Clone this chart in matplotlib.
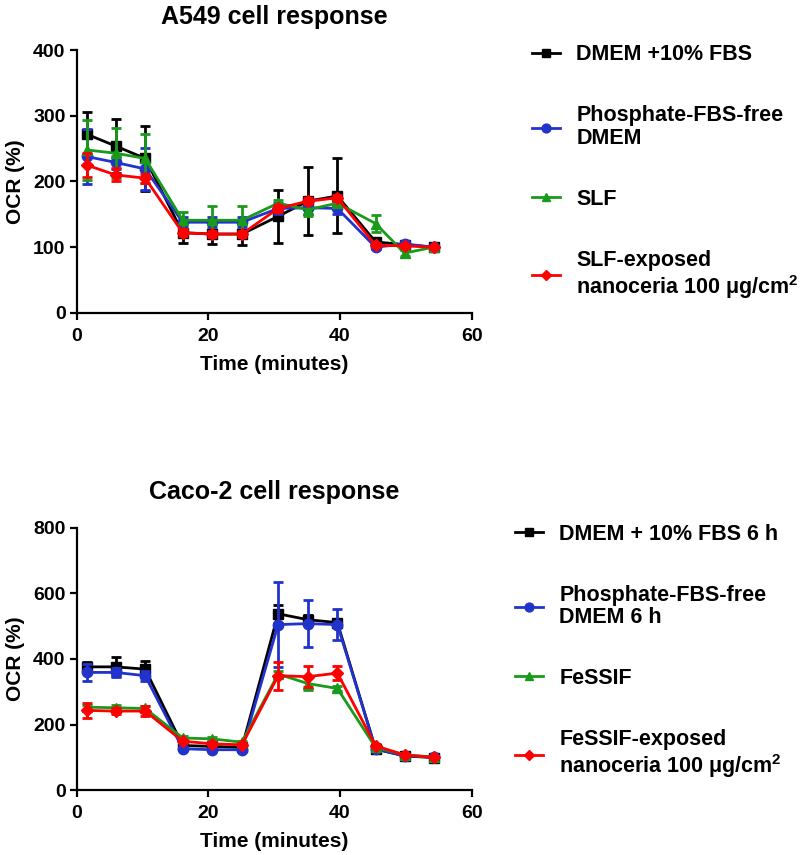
import matplotlib
matplotlib.use("Agg")
import matplotlib.pyplot as plt
from matplotlib.lines import Line2D

plt.rcParams['font.family'] = ['Liberation Sans', 'DejaVu Sans']
plt.rcParams['font.weight'] = 'bold'
plt.rcParams['mathtext.fontset'] = 'custom'
plt.rcParams['mathtext.bf'] = 'Liberation Sans:bold'
plt.rcParams['mathtext.rm'] = 'Liberation Sans:bold'
plt.rcParams['mathtext.default'] = 'bf'

# ---------------- data ----------------
time = [1.5, 5.9, 10.4, 16.1, 20.6, 25.1, 30.6, 35.1, 39.6, 45.4, 49.8, 54.2]

# A549
a_dmem = [272, 254, 235, 122, 120, 120, 147, 170, 178, 108, 104, 100]
a_dmem_err = [33, 41, 49, 15, 15, 17, 40, 52, 57, 5, 3, 2]
a_pfree = [238, 229, 219, 138, 138, 138, 159, 160, 159, 100, 105, 100]
a_pfree_err = [42, 10, 32, 8, 8, 8, 8, 10, 8, 3, 4, 2]
a_slf = [248, 243, 235, 141, 141, 141, 167, 157, 167, 136, 91, 100]
a_slf_err = [46, 38, 37, 13, 21, 21, 5, 10, 5, 13, 5, 2]
a_nano = [225, 210, 205, 122, 120, 120, 159, 170, 175, 103, 102, 100]
a_nano_err = [18, 10, 7, 5, 5, 5, 5, 5, 5, 3, 3, 2]

# Caco-2
c_dmem = [376, 376, 369, 136, 133, 130, 538, 520, 511, 125, 104, 99]
c_dmem_err = [15, 29, 25, 5, 5, 5, 28, 15, 12, 5, 4, 2]
c_pfree = [359, 359, 349, 126, 123, 123, 505, 508, 505, 125, 105, 100]
c_pfree_err = [27, 15, 15, 5, 5, 5, 129, 71, 48, 5, 4, 2]
c_fessif = [253, 251, 249, 159, 156, 146, 354, 325, 310, 130, 108, 100]
c_fessif_err = [8, 8, 8, 5, 5, 5, 10, 20, 8, 4, 3, 2]
c_nano = [243, 241, 241, 149, 141, 138, 349, 346, 357, 135, 107, 100]
c_nano_err = [23, 8, 15, 5, 5, 5, 43, 33, 22, 4, 3, 2]

a_labels = ['DMEM +10% FBS', 'Phosphate-FBS-free\nDMEM', 'SLF',
            'SLF-exposed\nnanoceria 100 μg/cm$^{2}$']
c_labels = ['DMEM + 10% FBS 6 h', 'Phosphate-FBS-free\nDMEM 6 h', 'FeSSIF',
            'FeSSIF-exposed\nnanoceria 100 μg/cm$^{2}$']

colors = ['#000000', '#2233cc', '#1a9a1a', '#ff0000']
markers = ['s', 'o', '^', 'D']
msizes = [7.5, 7.5, 7.5, 6]

fig = plt.figure(figsize=(8.0, 8.55), dpi=100)
ax1 = fig.add_axes([0.0959, 0.634, 0.4937, 0.3075])
ax2 = fig.add_axes([0.0959, 0.076, 0.4937, 0.3065])


def draw(ax, series, errs, labels, ymax, ystep, title, tpad, leg_xy):
    handles = []
    for i, (y, e) in enumerate(zip(series, errs)):
        ax.errorbar(time, y, yerr=e, color=colors[i], marker=markers[i],
                    markersize=msizes[i], linewidth=2, elinewidth=2,
                    capsize=3.6, capthick=2, clip_on=False, zorder=3 + i)
        handles.append(Line2D([], [], color=colors[i], marker=markers[i],
                              markersize=msizes[i] * 0.85, linewidth=2))
    ax.set_xlim(0, 60)
    ax.set_ylim(0, ymax)
    ax.set_xticks([0, 20, 40, 60])
    ax.set_yticks(list(range(0, ymax + 1, ystep)))
    for s in ['top', 'right']:
        ax.spines[s].set_visible(False)
    for s in ['left', 'bottom']:
        ax.spines[s].set_linewidth(1.6)
    ax.tick_params(width=1.6, length=5, labelsize=14)
    ax.tick_params(axis='x', pad=6)
    ax.tick_params(axis='y', pad=3)
    for lab in ax.get_xticklabels() + ax.get_yticklabels():
        lab.set_fontweight('bold')
    ax.set_xlabel('Time (minutes)', fontsize=15, fontweight='bold', labelpad=7)
    ax.set_ylabel('OCR (%)', fontsize=15, fontweight='bold', labelpad=6)
    ax.set_title(title, fontsize=18, fontweight='bold', pad=tpad)
    leg = ax.legend(handles=handles, labels=labels, loc='upper left',
                    bbox_to_anchor=leg_xy, bbox_transform=fig.transFigure,
                    frameon=False, fontsize=15.5, borderpad=0,
                    borderaxespad=0, labelspacing=1.85, handlelength=1.3,
                    handletextpad=0.75)
    for t in leg.get_texts():
        t.set_fontweight('bold')
        t.set_linespacing(1.1)


draw(ax1, [a_dmem, a_pfree, a_slf, a_nano],
     [a_dmem_err, a_pfree_err, a_slf_err, a_nano_err],
     a_labels, 400, 100, 'A549 cell response', 19, (0.665, 0.948))
draw(ax2, [c_dmem, c_pfree, c_fessif, c_nano],
     [c_dmem_err, c_pfree_err, c_fessif_err, c_nano_err],
     c_labels, 800, 200, 'Caco-2 cell response', 21, (0.644, 0.3875))

fig.savefig('out.png', dpi=100)
